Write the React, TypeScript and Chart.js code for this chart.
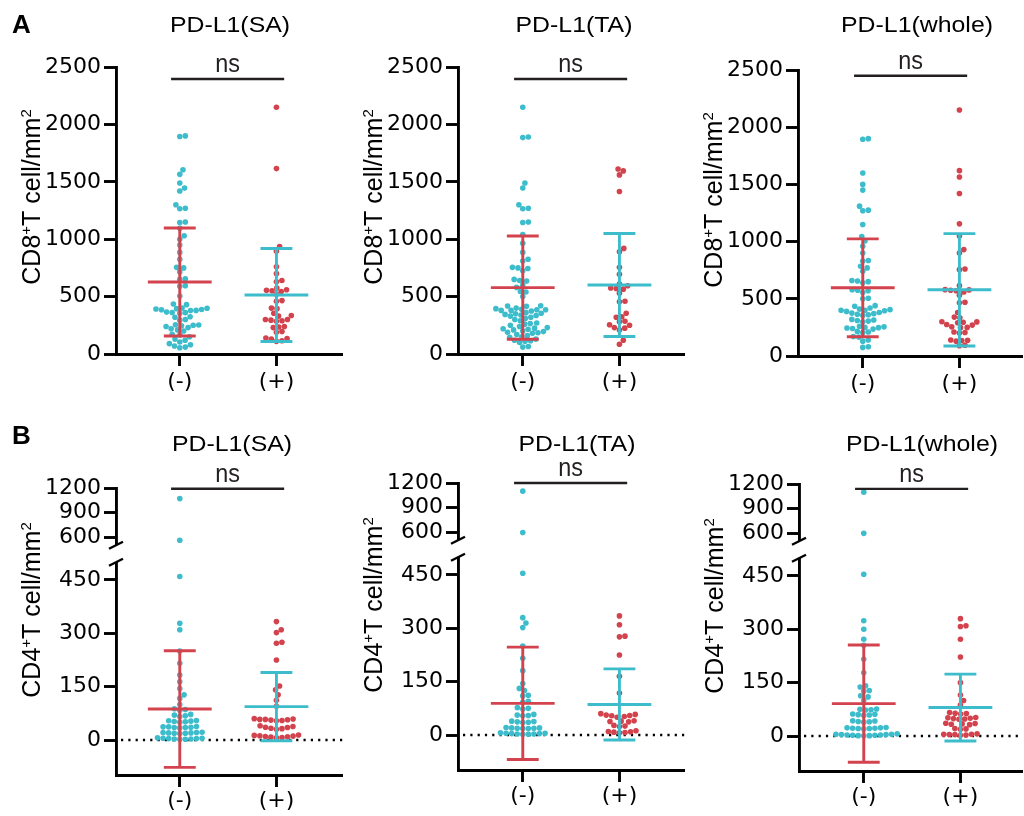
import React, { useEffect, useRef } from 'react';
import { Chart, registerables } from 'chart.js';
Chart.register(...registerables);

const CYAN = '#3DBDCB';
const RED = '#D3434E';
const INK = '#000000';
const BAR_INK = '#231f20';

const groupLabels = ['(-)', '(+)'];
const titles = ['PD-L1(SA)', 'PD-L1(TA)', 'PD-L1(whole)'];
const cd8TickValues = [0, 500, 1000, 1500, 2000, 2500];
const cd4TickValues = [0, 150, 300, 450, 600, 900, 1200];

// CD8+ T cell / mm2
const cd8SaNeg = [1900, 1895, 1605, 1565, 1490, 1445, 1420, 1300, 1270, 1265, 1150, 1145, 1095, 1030, 1000, 950, 885, 825, 755, 750, 715, 655, 650, 595, 590, 505, 435, 430, 400, 398, 395, 392, 388, 385, 380, 378, 365, 362, 360, 355, 325, 320, 300, 295, 255, 252, 250, 245, 240, 230, 220, 210, 200, 172, 165, 150, 130, 120, 105, 90, 80, 70, 60, 55];
const cd8SaPos = [2150, 1615, 935, 895, 760, 700, 640, 630, 575, 560, 555, 550, 545, 520, 465, 460, 400, 395, 355, 335, 330, 300, 300, 295, 290, 285, 240, 235, 230, 195, 190, 140, 135, 130, 115, 110];
const cd8TaNeg = [2150, 1890, 1885, 1490, 1445, 1300, 1270, 1265, 1150, 1145, 1040, 965, 885, 825, 810, 755, 750, 745, 725, 650, 640, 635, 600, 580, 545, 540, 500, 420, 418, 415, 400, 395, 390, 385, 385, 380, 380, 375, 360, 355, 350, 345, 340, 335, 330, 320, 310, 300, 290, 270, 265, 260, 250, 240, 230, 225, 220, 215, 210, 200, 195, 190, 185, 180, 170, 160, 150, 145, 130, 120, 115, 110, 100, 65, 60];
const cd8TaPos = [1612, 1595, 1560, 1415, 920, 890, 755, 695, 610, 595, 575, 570, 565, 530, 460, 455, 355, 325, 320, 285, 280, 255, 250, 230, 225, 210, 120, 85];
const cd8WholeNeg = [1900, 1895, 1600, 1500, 1450, 1310, 1275, 1270, 1150, 1045, 1005, 960, 900, 835, 830, 785, 770, 740, 660, 655, 650, 640, 580, 575, 570, 555, 505, 500, 440, 435, 420, 410, 405, 400, 400, 395, 390, 380, 375, 370, 365, 360, 355, 320, 315, 310, 305, 300, 260, 255, 250, 248, 245, 240, 235, 215, 210, 205, 170, 165, 140, 130, 80, 75];
const cd8WholePos = [2150, 1620, 1565, 1420, 1155, 1050, 930, 900, 760, 755, 615, 580, 578, 575, 570, 560, 530, 470, 465, 380, 340, 335, 300, 298, 295, 290, 275, 270, 255, 250, 248, 210, 205, 200, 140, 138, 135, 130, 95, 90];
const cd8Means = [[627, 514], [578, 601], [596, 579]];
const cd8Sds = [[470, 405], [450, 448], [428, 491]];
const cd8NsLevels = [2395, 2395, 2450];

// CD4+ T cell / mm2
const cd4SaNeg = [1070, 560, 460, 328, 310, 250, 216, 183, 164, 145, 127, 117, 100, 88, 86, 84, 72, 70, 68, 66, 55, 54, 53, 52, 51, 50, 38, 37, 37, 36, 35, 35, 34, 22, 21, 21, 20, 20, 19, 19, 18, 6, 5, 5, 4, 4, 3, 3, 2, 2];
const cd4SaPos = [333, 310, 302, 275, 272, 225, 152, 141, 127, 112, 95, 60, 59, 58, 58, 57, 56, 55, 54, 40, 38, 36, 35, 33, 32, 30, 14, 13, 12, 11, 10, 9, 8, 7, 6];
const cd4TaNeg = [1100, 595, 455, 330, 315, 302, 250, 216, 181, 145, 131, 125, 112, 110, 95, 92, 77, 75, 73, 58, 56, 55, 54, 39, 38, 37, 36, 35, 21, 20, 20, 19, 19, 18, 18, 6, 5, 5, 4, 4, 3, 3, 2, 2];
const cd4TaPos = [335, 310, 278, 276, 225, 165, 118, 60, 58, 56, 55, 54, 52, 50, 40, 39, 38, 37, 27, 25, 24, 12, 10, 9, 8, 7, 6];
const cd4WholeNeg = [1100, 596, 455, 324, 300, 272, 255, 216, 178, 141, 138, 128, 126, 113, 110, 100, 76, 75, 74, 73, 62, 61, 60, 59, 58, 43, 42, 41, 40, 39, 24, 23, 23, 22, 22, 21, 21, 20, 6, 5, 5, 4, 4, 3, 3, 2, 2, 1, 1, 0.5];
const cd4WholePos = [330, 310, 308, 272, 222, 150, 115, 100, 87, 66, 64, 63, 62, 52, 51, 50, 49, 48, 47, 36, 35, 34, 33, 32, 21, 20, 19, 6, 5, 5, 4, 4, 3, 2];
const cd4Means = [[87, 94], [89, 86], [91, 80]];
const cd4Sds = [[164, 96], [158, 100], [165, 94]];
const cd4NsLevels = [1190, 1200, 1140];

// ---------- layout constants ----------
const Y_BOX = 114;
const X_BOX = 50;
const PX_PER_CAT = 97;
const DOT_R = 2.8;
const MEAN_HALF = 0.33;
const CAP_HALF = 0.165;
const NS_FROM = -0.09;
const NS_TO = 1.08;
const LINE_W = 2.9;

// broken y axis for the CD4 row (display units)
const BREAK_AT = 500;
const BREAK_GAP = 47.8;
const UPPER_RATIO = 0.2298;
const cd4Display = (v: number) => (v <= BREAK_AT ? v : BREAK_AT + BREAK_GAP + (v - BREAK_AT) * UPPER_RATIO);
const CD4_MIN = -98.4;
const CD4_MAX = cd4Display(1200);

type Spec = {
  row: number;
  areaLeft: number; areaRight: number; areaTop: number; areaBottom: number;
  negX: number; titleX: number;
  neg: number[]; pos: number[]; means: number[]; sds: number[]; ns: number; title: string;
  letter?: string;
};

const panels: Spec[] = [
  { row: 0, areaLeft: 116, areaRight: 343, areaTop: 67, areaBottom: 354, negX: 180, titleX: 230, neg: cd8SaNeg, pos: cd8SaPos, means: cd8Means[0], sds: cd8Sds[0], ns: cd8NsLevels[0], title: titles[0], letter: 'A' },
  { row: 0, areaLeft: 458, areaRight: 685, areaTop: 67, areaBottom: 354, negX: 523, titleX: 574, neg: cd8TaNeg, pos: cd8TaPos, means: cd8Means[1], sds: cd8Sds[1], ns: cd8NsLevels[1], title: titles[1] },
  { row: 0, areaLeft: 798, areaRight: 1023, areaTop: 70, areaBottom: 356, negX: 863, titleX: 917, neg: cd8WholeNeg, pos: cd8WholePos, means: cd8Means[2], sds: cd8Sds[2], ns: cd8NsLevels[2], title: titles[2] },
  { row: 1, areaLeft: 116, areaRight: 343, areaTop: 488, areaBottom: 775, negX: 180, titleX: 232, neg: cd4SaNeg, pos: cd4SaPos, means: cd4Means[0], sds: cd4Sds[0], ns: cd4NsLevels[0], title: titles[0], letter: 'B' },
  { row: 1, areaLeft: 458, areaRight: 685, areaTop: 483, areaBottom: 770, negX: 523, titleX: 577, neg: cd4TaNeg, pos: cd4TaPos, means: cd4Means[1], sds: cd4Sds[1], ns: cd4NsLevels[1], title: titles[1] },
  { row: 1, areaLeft: 799, areaRight: 1023, areaTop: 484, areaBottom: 771, negX: 864, titleX: 922, neg: cd4WholeNeg, pos: cd4WholePos, means: cd4Means[2], sds: cd4Sds[2], ns: cd4NsLevels[2], title: titles[2] },
];

function geom(p: Spec) {
  const left = p.areaLeft - Y_BOX;
  const top = p.row === 0 ? 0 : 400;
  const w = p.areaRight - left + 2;
  const h = p.areaBottom - top + X_BOX;
  return { left, top, w, h };
}

// beeswarm layout: x offsets (in category units) derived from the y values
function swarm(ys: number[], pxPerY: number, pxPerX: number, diam: number): number[] {
  const order = ys.map((_, i) => i).sort((a, b) => ys[a] - ys[b]);
  const placed: { x: number; y: number }[] = [];
  const out = new Array(ys.length).fill(0);
  const d2 = diam * diam;
  for (const i of order) {
    const y = ys[i] * pxPerY;
    const near = placed.filter((p) => Math.abs(p.y - y) < diam);
    const cands = [0];
    for (const p of near) {
      const dx = Math.sqrt(Math.max(0, d2 - (p.y - y) ** 2));
      cands.push(p.x + dx, p.x - dx);
    }
    cands.sort((a, b) => Math.abs(a) - Math.abs(b));
    let chosen = 0;
    for (const c of cands) {
      if (near.every((p) => (p.x - c) ** 2 + (p.y - y) ** 2 >= d2 - 1e-6)) { chosen = c; break; }
    }
    placed.push({ x: chosen, y });
    out[i] = chosen / pxPerX;
  }
  return out;
}

function buildChart(canvas: HTMLCanvasElement, p: Spec) {
  const broken = p.row === 1;
  const tf = broken ? cd4Display : (v: number) => v;
  const yMin = broken ? CD4_MIN : 0;
  const yMax = broken ? CD4_MAX : 2500;
  const tickVals = broken ? cd4TickValues : cd8TickValues;
  const g = geom(p);
  const pxPerY = (p.areaBottom - p.areaTop) / (yMax - yMin);
  const xMin = (p.areaLeft - p.negX) / PX_PER_CAT;
  const xMax = (p.areaRight - p.negX) / PX_PER_CAT;

  const mk = (vals: number[], cat: number) => {
    const offs = swarm(vals.map(tf), pxPerY, PX_PER_CAT, DOT_R * 2);
    return vals.map((v, i) => ({ x: cat + offs[i], y: tf(v) }));
  };

  const overlay = {
    id: 'overlay',
    beforeDatasetsDraw(chart: any) {
      if (!broken) return;
      const { ctx, chartArea, scales } = chart;
      const y0 = scales.y.getPixelForValue(0);
      ctx.save();
      ctx.strokeStyle = INK;
      ctx.lineWidth = 2.3;
      ctx.setLineDash([2.2, 5.1]);
      ctx.beginPath();
      ctx.moveTo(chartArea.left + 5, y0);
      ctx.lineTo(chartArea.right, y0);
      ctx.stroke();
      ctx.restore();
    },
    afterDatasetsDraw(chart: any) {
      const { ctx, scales } = chart;
      const x = scales.x, y = scales.y;
      ctx.save();
      ctx.lineWidth = LINE_W;
      ctx.lineCap = 'butt';
      [0, 1].forEach((cat) => {
        const m = p.means[cat];
        const s = p.sds[cat];
        ctx.strokeStyle = cat === 0 ? RED : CYAN;
        const cx = x.getPixelForValue(cat);
        const yM = y.getPixelForValue(tf(m));
        const yU = y.getPixelForValue(tf(m + s));
        const yL = y.getPixelForValue(tf(m - s));
        ctx.beginPath();
        ctx.moveTo(cx, yU); ctx.lineTo(cx, yL);
        ctx.moveTo(x.getPixelForValue(cat - MEAN_HALF), yM); ctx.lineTo(x.getPixelForValue(cat + MEAN_HALF), yM);
        ctx.moveTo(x.getPixelForValue(cat - CAP_HALF), yU); ctx.lineTo(x.getPixelForValue(cat + CAP_HALF), yU);
        ctx.moveTo(x.getPixelForValue(cat - CAP_HALF), yL); ctx.lineTo(x.getPixelForValue(cat + CAP_HALF), yL);
        ctx.stroke();
      });
      // significance bar
      const yN = y.getPixelForValue(tf(p.ns));
      const x1 = x.getPixelForValue(NS_FROM), x2 = x.getPixelForValue(NS_TO);
      ctx.strokeStyle = BAR_INK;
      ctx.lineWidth = 2.4;
      ctx.beginPath(); ctx.moveTo(x1, yN); ctx.lineTo(x2, yN); ctx.stroke();
      ctx.save();
      ctx.translate((x1 + x2) / 2, yN - 7);
      ctx.scale(0.9, 1);
      ctx.fillStyle = BAR_INK;
      ctx.font = '26px "Liberation Sans", Arial, sans-serif';
      ctx.textAlign = 'center';
      ctx.textBaseline = 'alphabetic';
      ctx.fillText('ns', 0, 0);
      ctx.restore();
      ctx.restore();
    },
    afterDraw(chart: any) {
      const { ctx, chartArea, scales } = chart;
      ctx.save();
      ctx.fillStyle = INK;
      // title
      ctx.save();
      ctx.translate(p.titleX - g.left, (broken ? 450.5 : 32) - g.top);
      ctx.scale(1.13, 1);
      ctx.font = '22px "Liberation Sans", Arial, sans-serif';
      ctx.textAlign = 'center';
      ctx.textBaseline = 'alphabetic';
      ctx.fillText(p.title, 0, 0);
      ctx.restore();
      // y axis title with superscripts
      const parts: [string, boolean][] = [[broken ? 'CD4' : 'CD8', false], ['+', true], ['T cell/mm', false], ['2', true]];
      const big = '25px "Liberation Sans", Arial, sans-serif';
      const small = '15px "Liberation Sans", Arial, sans-serif';
      let total = 0;
      const widths = parts.map(([t, sup]) => { ctx.font = sup ? small : big; const w = ctx.measureText(t).width; total += w; return w; });
      ctx.save();
      ctx.translate(chartArea.left - 76, chartArea.top + (broken ? 122 : 130));
      ctx.rotate(-Math.PI / 2);
      ctx.textAlign = 'left';
      ctx.textBaseline = 'alphabetic';
      let cx = -total / 2;
      parts.forEach(([t, sup], i) => {
        ctx.font = sup ? small : big;
        ctx.fillText(t, cx, sup ? -9 : 0);
        cx += widths[i];
      });
      ctx.restore();
      // panel letter
      if (p.letter) {
        ctx.font = 'bold 26px "Liberation Sans", Arial, sans-serif';
        ctx.textAlign = 'left';
        ctx.textBaseline = 'alphabetic';
        ctx.fillText(p.letter, 12 - g.left, (p.row === 0 ? 33 : 443.5) - g.top);
      }
      // axis break
      if (broken) {
        const ax = chartArea.left;
        const yLow = scales.y.getPixelForValue(BREAK_AT);
        const yHigh = scales.y.getPixelForValue(BREAK_AT + BREAK_GAP);
        ctx.clearRect(ax - 2.8, yHigh, 5.6, yLow - yHigh);
        ctx.strokeStyle = INK;
        ctx.lineWidth = 2.4;
        ctx.beginPath();
        [yHigh, yLow].forEach((yy) => { ctx.moveTo(ax - 7, yy + 3.5); ctx.lineTo(ax + 7, yy - 3.5); });
        ctx.stroke();
      }
      ctx.restore();
    },
  };

  const axisGrid = { display: true, drawOnChartArea: false, drawTicks: true, tickLength: 12, tickWidth: LINE_W, tickColor: INK, color: INK };
  const axisBorder = { display: true, color: INK, width: LINE_W };
  const tickFont = { family: '"DejaVu Sans", sans-serif', size: 22 };

  return new Chart(canvas, {
    type: 'scatter',
    data: {
      datasets: [
        { label: groupLabels[0], data: mk(p.neg, 0), backgroundColor: CYAN, borderWidth: 0, pointRadius: DOT_R, pointHoverRadius: DOT_R },
        { label: groupLabels[1], data: mk(p.pos, 1), backgroundColor: RED, borderWidth: 0, pointRadius: DOT_R, pointHoverRadius: DOT_R },
      ],
    },
    options: {
      responsive: false,
      maintainAspectRatio: false,
      animation: false,
      events: [],
      layout: { padding: { left: 0, right: 2, bottom: 0, top: p.areaTop - g.top } },
      plugins: { legend: { display: false }, tooltip: { enabled: false }, title: { display: false } },
      scales: {
        x: {
          type: 'linear',
          min: xMin,
          max: xMax,
          afterBuildTicks: (s: any) => { s.ticks = [{ value: 0 }, { value: 1 }]; },
          afterFit: (s: any) => { s.height = X_BOX; },
          ticks: { callback: (_v: any, i: number) => groupLabels[i], font: tickFont, color: INK, padding: broken ? 1 : 3, autoSkip: false, maxRotation: 0 },
          grid: axisGrid,
          border: axisBorder,
        },
        y: {
          type: 'linear',
          min: yMin,
          max: yMax,
          afterBuildTicks: (s: any) => { s.ticks = tickVals.map((v) => ({ value: tf(v) })); },
          afterFit: (s: any) => { s.width = Y_BOX; },
          ticks: { callback: (_v: any, i: number) => String(tickVals[i]), font: tickFont, color: INK, padding: 3, autoSkip: false },
          grid: axisGrid,
          border: axisBorder,
        },
      },
    } as any,
    plugins: [overlay as any],
  });
}

export default function App() {
  const refs = useRef<(HTMLCanvasElement | null)[]>([]);
  useEffect(() => {
    const charts = panels.map((p, i) => buildChart(refs.current[i] as HTMLCanvasElement, p));
    return () => charts.forEach((c) => c.destroy());
  }, []);
  return (
    <div style={{ position: 'absolute', left: 0, top: 0, width: 1024, height: 816, overflow: 'hidden', background: '#ffffff' }}>
      {panels.map((p, i) => {
        const g = geom(p);
        return (
          <canvas
            key={i}
            ref={(el) => { refs.current[i] = el; }}
            width={g.w}
            height={g.h}
            style={{ position: 'absolute', left: g.left, top: g.top, width: g.w, height: g.h, display: 'block' }}
          />
        );
      })}
    </div>
  );
}
